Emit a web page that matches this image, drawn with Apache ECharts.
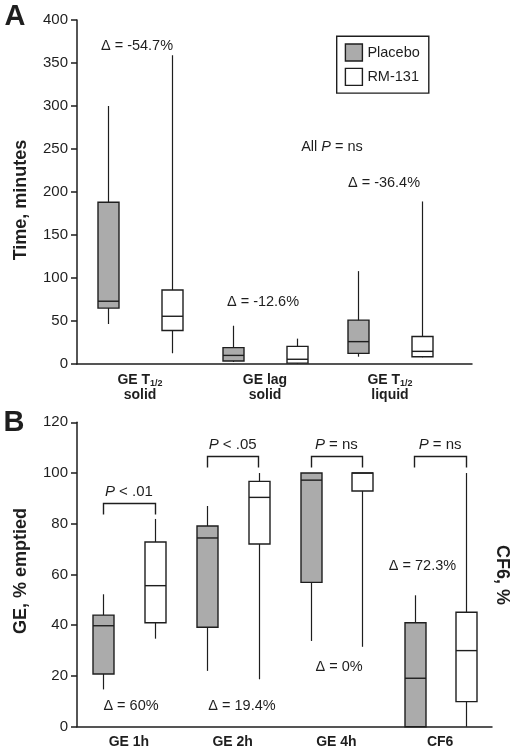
<!DOCTYPE html>
<html><head><meta charset="utf-8">
<script src="https://cdn.jsdelivr.net/npm/echarts@6/dist/echarts.min.js"></script>
<style>html,body{margin:0;padding:0;background:#fff}#c{width:515px;height:750px}</style>
</head><body><div id="c"></div>
<script>
// ---------- data ----------
// Panel A categories (main text, subscript, second line)
const catMainA = ['GE T', 'GE lag', 'GE T'];
const catSubA = ['1/2', '', '1/2'];
const catLine2A = ['solid', 'solid', 'liquid'];
// [min, Q1, median, Q3, max]
const placeboA = [[46.5, 65, 73, 188, 300], [2.3, 3.5, 10, 19, 44.5], [8.5, 12.4, 26, 51, 108]];
const rm131A = [[12.4, 39, 55.5, 86, 359], [0, 1, 5.5, 20.5, 29.5], [7.8, 8.5, 14.7, 32, 189]];
const yTicksA = [0, 50, 100, 150, 200, 250, 300, 350, 400];

// Panel B
const categoriesB = ['GE 1h', 'GE 2h', 'GE 4h', 'CF6'];
const placeboB = [[14.7, 20.8, 39.8, 44, 52.2], [22, 39.2, 74.4, 79.1, 87], [33.8, 56.9, 97.2, 100, 100], [0, 0, 19.1, 41, 51.8]];
const rm131B = [[34.7, 41, 55.6, 72.8, 81.9], [18.7, 72, 90.4, 96.7, 100], [31.5, 92.9, 100, 100, 100], [0, 9.9, 30, 45.1, 100]];
const yTicksB = [0, 20, 40, 60, 80, 100, 120];
const bracketY = [88, 106.7, 106.7, 106.7];
const pPrefix = ['P', 'P', 'P', 'P'];
const pRest = [' < .01', ' < .05', ' = ns', ' = ns'];

const deltaA = ['Δ = -54.7%', 'Δ = -12.6%', 'Δ = -36.4%'];
const deltaB = ['Δ = 60%', 'Δ = 19.4%', 'Δ = 0%', 'Δ = 72.3%'];
const seriesNames = ['Placebo', 'RM-131'];

// ---------- style ----------
const FONT = '"Liberation Sans", Arial, Helvetica, sans-serif';
const INK = '#1e1e1e';
const GREY = '#ababab';
const gridA = {left: 77, top: 20, width: 395, height: 344};
const gridB = {left: 77, top: 422.3, width: 415, height: 304.4};

function rows(arr) { return arr.map((r, i) => [i].concat(r)); }

function boxRender(offset, fill, boxW) {
  return function (params, api) {
    const x = api.value(0);
    const pMin = api.coord([x, api.value(1)]);
    const pQ1 = api.coord([x, api.value(2)]);
    const pMd = api.coord([x, api.value(3)]);
    const pQ3 = api.coord([x, api.value(4)]);
    const pMax = api.coord([x, api.value(5)]);
    const cx = Math.round(pMin[0] + offset) + 0.5;
    return {
      type: 'group',
      children: [
        {type: 'line', shape: {x1: cx, y1: pMax[1], x2: cx, y2: pMin[1]}, style: {stroke: INK, lineWidth: 1.2}},
        {type: 'rect', shape: {x: cx - boxW / 2, y: pQ3[1], width: boxW, height: pQ1[1] - pQ3[1]}, style: {fill: fill, stroke: INK, lineWidth: 1.4}},
        {type: 'line', shape: {x1: cx - boxW / 2, y1: pMd[1], x2: cx + boxW / 2, y2: pMd[1]}, style: {stroke: INK, lineWidth: 1.4}}
      ]
    };
  };
}

function bracketRender(half, leg) {
  return function (params, api) {
    const i = api.value(0);
    const p = api.coord([i, api.value(1)]);
    const x1 = Math.round(p[0] - half) + 0.5, x2 = Math.round(p[0] + half) + 0.5, y = Math.round(p[1]) + 0.5;
    return {
      type: 'group',
      children: [
        {type: 'polyline', shape: {points: [[x1, y + leg], [x1, y], [x2, y], [x2, y + leg]]}, style: {stroke: INK, lineWidth: 1.4, fill: null}},
        {type: 'text', x: p[0], y: y - 4, style: {
          text: '{i|' + pPrefix[i] + '}{n|' + pRest[i] + '}',
          textAlign: 'center', align: 'center', textVerticalAlign: 'bottom', verticalAlign: 'bottom',
          rich: {
            i: {fontStyle: 'italic', fontSize: 15, fontFamily: FONT, fill: INK, color: INK},
            n: {fontSize: 15, fontFamily: FONT, fill: INK, color: INK}
          }
        }}
      ]
    };
  };
}

const axisLineStyle = {lineStyle: {color: INK, width: 1.5}};
const yLabel = {color: INK, fontSize: 15, fontFamily: FONT, margin: 9};

function textEl(x, y, text, font, rot) {
  return {type: 'text', x: x, y: y, rotation: rot || 0, style: {
    text: text, font: font, fill: INK,
    textAlign: 'center', align: 'center', textVerticalAlign: 'middle', verticalAlign: 'middle'
  }};
}
const deltaFont = '14.5px ' + FONT;

const option = {
  backgroundColor: '#fff',
  animation: false,
  grid: [
    Object.assign({containLabel: false}, gridA),
    Object.assign({containLabel: false}, gridB)
  ],
  xAxis: [
    {
      gridIndex: 0, type: 'value', min: -0.504, max: 2.656,
      axisLine: Object.assign({onZero: false}, axisLineStyle), axisTick: {show: false}, splitLine: {show: false},
      axisLabel: {
        customValues: [0, 1, 2], margin: 9, color: INK, fontFamily: FONT,
        formatter: function (v) {
          const i = Math.round(v);
          let s = '{b|' + catMainA[i] + '}';
          if (catSubA[i]) s += '{s|' + catSubA[i] + '}';
          return s + '\n{b|' + catLine2A[i] + '}';
        },
        rich: {
          b: {fontWeight: 'bold', fontSize: 14, lineHeight: 15, fontFamily: FONT, color: INK},
          s: {fontWeight: 'bold', fontSize: 9, lineHeight: 15, fontFamily: FONT, color: INK, verticalAlign: 'bottom'}
        }
      }
    },
    {
      gridIndex: 1, type: 'category', data: categoriesB,
      axisLine: Object.assign({onZero: false}, axisLineStyle), axisTick: {show: false}, splitLine: {show: false},
      axisLabel: {margin: 8, color: INK, fontFamily: FONT, fontWeight: 'bold', fontSize: 14}
    }
  ],
  yAxis: [
    {
      gridIndex: 0, type: 'value', min: yTicksA[0], max: yTicksA[yTicksA.length - 1], interval: yTicksA[1] - yTicksA[0],
      axisLine: Object.assign({show: true, onZero: false}, axisLineStyle), axisTick: {show: true, length: 6, lineStyle: {color: INK, width: 1.5}},
      splitLine: {show: false}, axisLabel: yLabel
    },
    {
      gridIndex: 1, type: 'value', min: yTicksB[0], max: yTicksB[yTicksB.length - 1], interval: yTicksB[1] - yTicksB[0],
      axisLine: Object.assign({show: true, onZero: false}, axisLineStyle), axisTick: {show: true, length: 6, lineStyle: {color: INK, width: 1.5}},
      splitLine: {show: false}, axisLabel: yLabel
    }
  ],
  legend: {
    left: 336.7, top: 36.3, orient: 'vertical',
    padding: [7, 9, 7, 8], itemGap: 6, itemWidth: 17, itemHeight: 17,
    borderColor: INK, borderWidth: 1.4, backgroundColor: '#fff',
    textStyle: {fontSize: 14.5, fontFamily: FONT, color: INK},
    selectedMode: false,
    data: [
      {name: seriesNames[0], icon: 'rect', itemStyle: {color: GREY, borderColor: INK, borderWidth: 1.4}},
      {name: seriesNames[1], icon: 'rect', itemStyle: {color: '#fff', borderColor: INK, borderWidth: 1.4}}
    ]
  },
  series: [
    {name: seriesNames[0], type: 'custom', xAxisIndex: 0, yAxisIndex: 0, data: rows(placeboA), encode: {x: 0, y: [1, 2, 3, 4, 5]}, itemStyle: {color: GREY}, renderItem: boxRender(-31.7, GREY, 21)},
    {name: seriesNames[1], type: 'custom', xAxisIndex: 0, yAxisIndex: 0, data: rows(rm131A), encode: {x: 0, y: [1, 2, 3, 4, 5]}, itemStyle: {color: '#fff'}, renderItem: boxRender(31.5, '#fff', 21)},
    {name: seriesNames[0], type: 'custom', xAxisIndex: 1, yAxisIndex: 1, data: rows(placeboB), encode: {x: 0, y: [1, 2, 3, 4, 5]}, itemStyle: {color: GREY}, renderItem: boxRender(-25.5, GREY, 21)},
    {name: seriesNames[1], type: 'custom', xAxisIndex: 1, yAxisIndex: 1, data: rows(rm131B), encode: {x: 0, y: [1, 2, 3, 4, 5]}, itemStyle: {color: '#fff'}, renderItem: boxRender(26, '#fff', 21)},
    {name: 'brackets', type: 'custom', xAxisIndex: 1, yAxisIndex: 1, data: bracketY.map((v, i) => [i, v]), encode: {x: 0, y: 1}, renderItem: bracketRender(25.75, 11)}
  ],
  graphic: [
    textEl(15, 17, 'A', 'bold 29px ' + FONT),
    textEl(14, 423, 'B', 'bold 29px ' + FONT),
    textEl(21, 200, 'Time, minutes', 'bold 18px ' + FONT, Math.PI / 2),
    textEl(21, 571, 'GE, % emptied', 'bold 18px ' + FONT, Math.PI / 2),
    textEl(502, 575, 'CF6, %', 'bold 18px ' + FONT, -Math.PI / 2),
    textEl(137, 46, deltaA[0], deltaFont),
    textEl(263, 302, deltaA[1], deltaFont),
    textEl(384, 183, deltaA[2], deltaFont),
    {type: 'text', x: 332, y: 147, style: {
      text: '{n|All }{i|P}{n| = ns}', textAlign: 'center', align: 'center', textVerticalAlign: 'middle', verticalAlign: 'middle',
      rich: {n: {fontSize: 14.5, fontFamily: FONT, fill: INK, color: INK}, i: {fontSize: 14.5, fontFamily: FONT, fontStyle: 'italic', fill: INK, color: INK}}
    }},
    textEl(131, 706, deltaB[0], deltaFont),
    textEl(242, 706, deltaB[1], deltaFont),
    textEl(339, 667, deltaB[2], deltaFont),
    textEl(422.5, 566, deltaB[3], deltaFont)
  ]
};

const chart = echarts.init(document.getElementById('c'), null, {renderer: 'canvas'});
chart.setOption(option);
</script>
</body></html>
